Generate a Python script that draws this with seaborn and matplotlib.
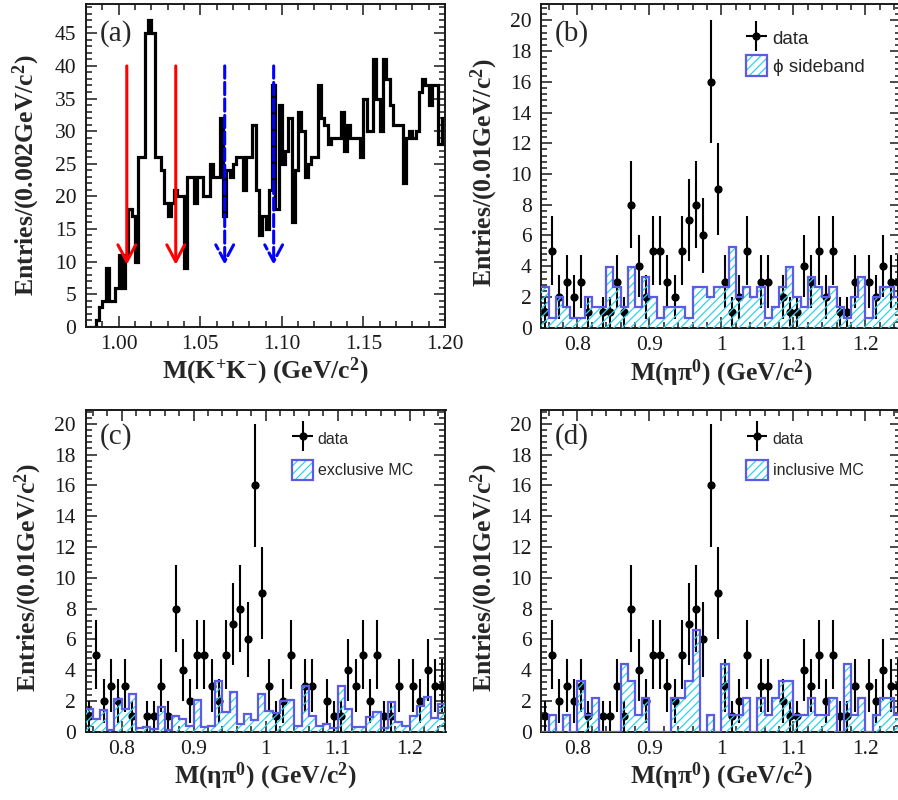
import numpy as np
import matplotlib
matplotlib.use("Agg")
import matplotlib.pyplot as plt
import seaborn as sns
from matplotlib.patches import Patch
from matplotlib.container import ErrorbarContainer
from matplotlib.legend_handler import HandlerErrorbar, HandlerTuple
from matplotlib.ticker import MultipleLocator, FuncFormatter
from matplotlib.font_manager import FontProperties

# ---------------- data ----------------
# (a) M(K+K-) spectrum, 0.002 GeV/c^2 bins from 0.98 to 1.20
mkk_range = (0.98, 1.20)
mkk_counts = [0, 0, 0, 1, 3, 4, 9, 4, 4, 6,
              11, 6, 11, 18, 17, 10, 26, 26, 45, 47,
              45, 26, 26, 24, 19, 17, 19, 21, 20, 20,
              9, 23, 23, 19, 23, 23, 20, 20, 25, 23,
              23, 32, 17, 24, 23, 25, 26, 26, 21, 26,
              26, 31, 21, 14, 17, 15, 21, 37, 18, 34,
              25, 27, 32, 16, 24, 33, 30, 23, 25, 26,
              26, 37, 32, 31, 28, 29, 29, 29, 33, 27,
              31, 29, 29, 29, 26, 35, 30, 30, 41, 35,
              30, 41, 38, 34, 31, 31, 31, 22, 29, 30,
              29, 30, 36, 38, 37, 34, 37, 37, 28, 32]
signal_cuts = [1.005, 1.035]
sideband_cuts = [1.065, 1.095]
arrow_from, arrow_to = 40, 9.5

# (b)-(d) M(eta pi0) spectra, 0.01 GeV/c^2 bins from 0.75 to 1.25
mep_range = (0.75, 1.25)
data_counts = [1, 5, 2, 3, 2, 3, 1, 0, 1, 1,
               3, 1, 8, 4, 2, 5, 5, 3, 2, 5,
               7, 8, 6, 16, 9, 3, 1, 2, 5, 0,
               3, 3, 0, 2, 1, 1, 4, 3, 5, 2,
               5, 1, 1, 3, 0, 3, 2, 4, 3, 3]
sideband_counts = [4, 1, 3, 2, 1, 1, 3, 2, 2, 6,
                   4, 2, 6, 2, 5, 3, 1, 2, 2, 2,
                   1, 4, 4, 3, 4, 4, 8, 3, 4, 3,
                   4, 1, 2, 4, 6, 3, 2, 5, 4, 3,
                   4, 2, 1, 3, 5, 1, 3, 4, 4, 3]
sideband_weight = 0.66
exclusive_mc = [1.5, 0.85, 1.4, 0.1, 2.1, 1.5, 2.45, 0.25, 0.28, 0.2,
                1.6, 0.1, 1.0, 0.8, 0.35, 2.05, 0.28, 0.38, 3.3, 1.3,
                2.6, 0.5, 1.15, 0.75, 2.45, 1.35, 1.2, 2.0, 2.05, 0.4,
                3.0, 1.0, 0.35, 0.5, 0.25, 2.95, 1.45, 0.33, 0.33, 0.95,
                1.3, 0.25, 1.9, 0.65, 0.37, 1.05, 1.65, 2.27, 0.9, 1.77]
inclusive_counts = [0, 1, 0, 1, 0, 3, 1, 2, 0, 0,
                    0, 4, 3, 1, 2, 0, 0, 0, 2, 2,
                    3, 6, 0, 1, 0, 4, 1, 1, 2, 0,
                    2, 1, 2, 3, 3, 1, 1, 2, 1, 1,
                    2, 0, 4, 1, 2, 0, 1, 2, 2, 1]
inclusive_weight = 1.1

panel_tags = ["(a)", "(b)", "(c)", "(d)"]
mc_labels = ["\u03d5 sideband", "exclusive MC", "inclusive MC"]

# ---------------- style ----------------
sns.set_theme(style="ticks")
plt.rcParams["font.family"] = ["Liberation Serif", "DejaVu Serif"]
plt.rcParams["mathtext.fontset"] = "custom"
plt.rcParams["mathtext.rm"] = "Liberation Serif"
plt.rcParams["mathtext.bf"] = "Liberation Serif:bold"
plt.rcParams["mathtext.it"] = "Liberation Serif:italic"
plt.rcParams["hatch.linewidth"] = 0.9
plt.rcParams["axes.grid"] = False

HATCH_C = "#2ad4f0"
EDGE_C = "#5b5be6"
LABEL_FS = 18.5
TICK_FS = 15.5

fig = plt.figure(figsize=(8.98, 8.0), dpi=100)
W, H = 898.0, 800.0


def add_axes(left, top, right, bottom):
    return fig.add_axes([left / W, 1 - bottom / H, (right - left) / W, (bottom - top) / H])


ax_a = add_axes(86, 4, 445, 326.7)
ax_b = add_axes(541.4, 4, 901.4, 327.7)
ax_c = add_axes(85.5, 410, 445.5, 731.7)
ax_d = add_axes(541.4, 410, 901.4, 731.7)


def style_axes(ax, xmaj, xmin, ymaj, ymin):
    ax.xaxis.set_major_locator(MultipleLocator(xmaj))
    ax.xaxis.set_minor_locator(MultipleLocator(xmin))
    ax.yaxis.set_major_locator(MultipleLocator(ymaj))
    ax.yaxis.set_minor_locator(MultipleLocator(ymin))
    ax.tick_params(which="both", direction="in", top=True, right=True,
                   width=1.1, color="k", labelsize=TICK_FS, labelcolor="k")
    ax.tick_params(which="major", length=8)
    ax.tick_params(which="minor", length=4)
    ax.tick_params(axis="x", which="both", pad=6)
    ax.tick_params(axis="y", which="both", pad=7)
    for s in ax.spines.values():
        s.set_visible(True)
        s.set_linewidth(1.4)
        s.set_color("k")
    ax.grid(False)


# ---------------- panel (a) ----------------
mkk_edges = np.linspace(mkk_range[0], mkk_range[1], len(mkk_counts) + 1)
mkk_centers = 0.5 * (mkk_edges[:-1] + mkk_edges[1:])
sns.histplot(x=mkk_centers, weights=np.array(mkk_counts, float), bins=list(mkk_edges),
             element="step", fill=False, color="black", linewidth=2.3, ax=ax_a,
             solid_joinstyle="miter")
for xc in signal_cuts:
    ax_a.annotate("", xy=(xc, arrow_to), xytext=(xc, arrow_from),
                  arrowprops=dict(arrowstyle="->,head_length=0.6,head_width=0.32",
                                  color="#ff0000", lw=2.2, shrinkA=0, shrinkB=0,
                                  mutation_scale=20), zorder=6)
for xc in sideband_cuts:
    ax_a.annotate("", xy=(xc, arrow_to), xytext=(xc, arrow_from),
                  arrowprops=dict(arrowstyle="->,head_length=0.6,head_width=0.32",
                                  color="#0000ff", lw=2.2, shrinkA=0, shrinkB=0,
                                  linestyle=(0, (4.0, 1.4)), mutation_scale=20), zorder=6)
ax_a.set_xlim(*mkk_range)
ax_a.set_ylim(0, 49.5)
style_axes(ax_a, 0.05, 0.01, 5, 1)
ax_a.xaxis.set_major_formatter(FuncFormatter(lambda v, p: f"{v:.2f}"))
ax_a.yaxis.set_major_formatter(FuncFormatter(lambda v, p: f"{v:g}"))
ax_a.set_xlabel(r"M(K$^{\mathbf{+}}$K$^{\mathbf{-}}$) (GeV/c$^{\mathbf{2}}$)",
                fontsize=LABEL_FS, fontweight="bold")
ax_a.set_ylabel(r"Entries/(0.002GeV/c$^{\mathbf{2}}$)", fontsize=LABEL_FS, fontweight="bold")
ax_a.xaxis.set_label_coords(0.5, -0.137)
ax_a.yaxis.set_label_coords(-0.166, 0.47)
ax_a.xaxis.label.set_va("center")
ax_a.yaxis.label.set_va("center")
ax_a.text(0.039, 0.907, panel_tags[0], transform=ax_a.transAxes, fontsize=21,
          ha="left", va="center")

# ---------------- panels (b)-(d) ----------------
mep_edges = np.linspace(mep_range[0], mep_range[1], len(data_counts) + 1)
mep_centers = 0.5 * (mep_edges[:-1] + mep_edges[1:])
dc = np.array(data_counts, dtype=float)
mask = dc > 0

mc_sets = [np.array(sideband_counts, float) * sideband_weight,
           np.array(exclusive_mc, float),
           np.array(inclusive_counts, float) * inclusive_weight]

panel_cfg = [
    (ax_b, panel_tags[1], -0.14, -0.158, (0.038, 0.910), (0.568, 0.929), 13.5,
     dict(handlelength=1.13, handleheight=1.4, labelspacing=0.32, handletextpad=0.3),
     (0.55, 0.8), 21.06),
    (ax_c, panel_tags[2], -0.14, -0.16, (0.040, 0.916), (0.574, 0.944), 11.5,
     dict(handlelength=1.3, handleheight=1.6, labelspacing=0.69, handletextpad=0.3),
     (0.65, 0.95), 20.9),
    (ax_d, panel_tags[3], -0.14, -0.158, (0.038, 0.919), (0.568, 0.944), 11.5,
     dict(handlelength=1.38, handleheight=1.6, labelspacing=0.69, handletextpad=0.3),
     (0.65, 0.95), 20.9),
]

for (ax, tag, xly, ylx, tagxy, anchor, lfs, hkw, errsz, ytop), mc, mclab in zip(
        panel_cfg, mc_sets, mc_labels):
    ax.errorbar(mep_centers[mask], dc[mask], yerr=np.sqrt(dc[mask]), fmt="o",
                color="black", ms=4.9, elinewidth=1.5, capsize=0, zorder=2)
    sns.histplot(x=mep_centers, weights=mc, bins=list(mep_edges), element="step",
                 fill=True, color=HATCH_C, facecolor="none", edgecolor=HATCH_C,
                 hatch="////", linewidth=0, ax=ax, zorder=3)
    sns.histplot(x=mep_centers, weights=mc, bins=list(mep_edges), element="step",
                 fill=False, color=EDGE_C, linewidth=1.6, ax=ax, zorder=4,
                 solid_joinstyle="miter")
    ax.set_xlim(*mep_range)
    ax.set_ylim(0, ytop)
    style_axes(ax, 0.1, 0.02, 2, 0.4)
    ax.xaxis.set_major_formatter(FuncFormatter(lambda v, p: f"{round(v, 3):g}"))
    ax.yaxis.set_major_formatter(FuncFormatter(lambda v, p: f"{v:g}"))
    ax.set_xlabel("M(\u03b7\u03c0$^{\\mathbf{0}}$) (GeV/c$^{\\mathbf{2}}$)",
                  fontsize=LABEL_FS, fontweight="bold")
    ax.set_ylabel(r"Entries/(0.01GeV/c$^{\mathbf{2}}$)", fontsize=LABEL_FS, fontweight="bold")
    ax.xaxis.set_label_coords(0.5, xly)
    ax.yaxis.set_label_coords(ylx, 0.48)
    ax.xaxis.label.set_va("center")
    ax.yaxis.label.set_va("center")
    ax.text(tagxy[0], tagxy[1], tag, transform=ax.transAxes, fontsize=21,
            ha="left", va="center")

    h_data = ax.errorbar([np.nan], [np.nan], xerr=[[1.0], [1.0]], yerr=[[1.0], [1.0]],
                         fmt="o", color="black", ms=4.9, elinewidth=1.5, capsize=0)
    p_hatch = Patch(facecolor="none", edgecolor=HATCH_C, hatch="////", linewidth=0)
    p_edge = Patch(facecolor="none", edgecolor=EDGE_C, linewidth=1.6)
    ax.legend([h_data, (p_hatch, p_edge)], ["data", mclab], loc="upper left",
              bbox_to_anchor=anchor, frameon=False, borderpad=0, borderaxespad=0,
              numpoints=1, prop=FontProperties(family=["Liberation Sans", "DejaVu Sans"], size=lfs),
              handler_map={ErrorbarContainer: HandlerErrorbar(xerr_size=errsz[0], yerr_size=errsz[1]),
                           tuple: HandlerTuple(ndivide=1, pad=0)},
              **hkw)

fig.savefig("out.png", dpi=100)
